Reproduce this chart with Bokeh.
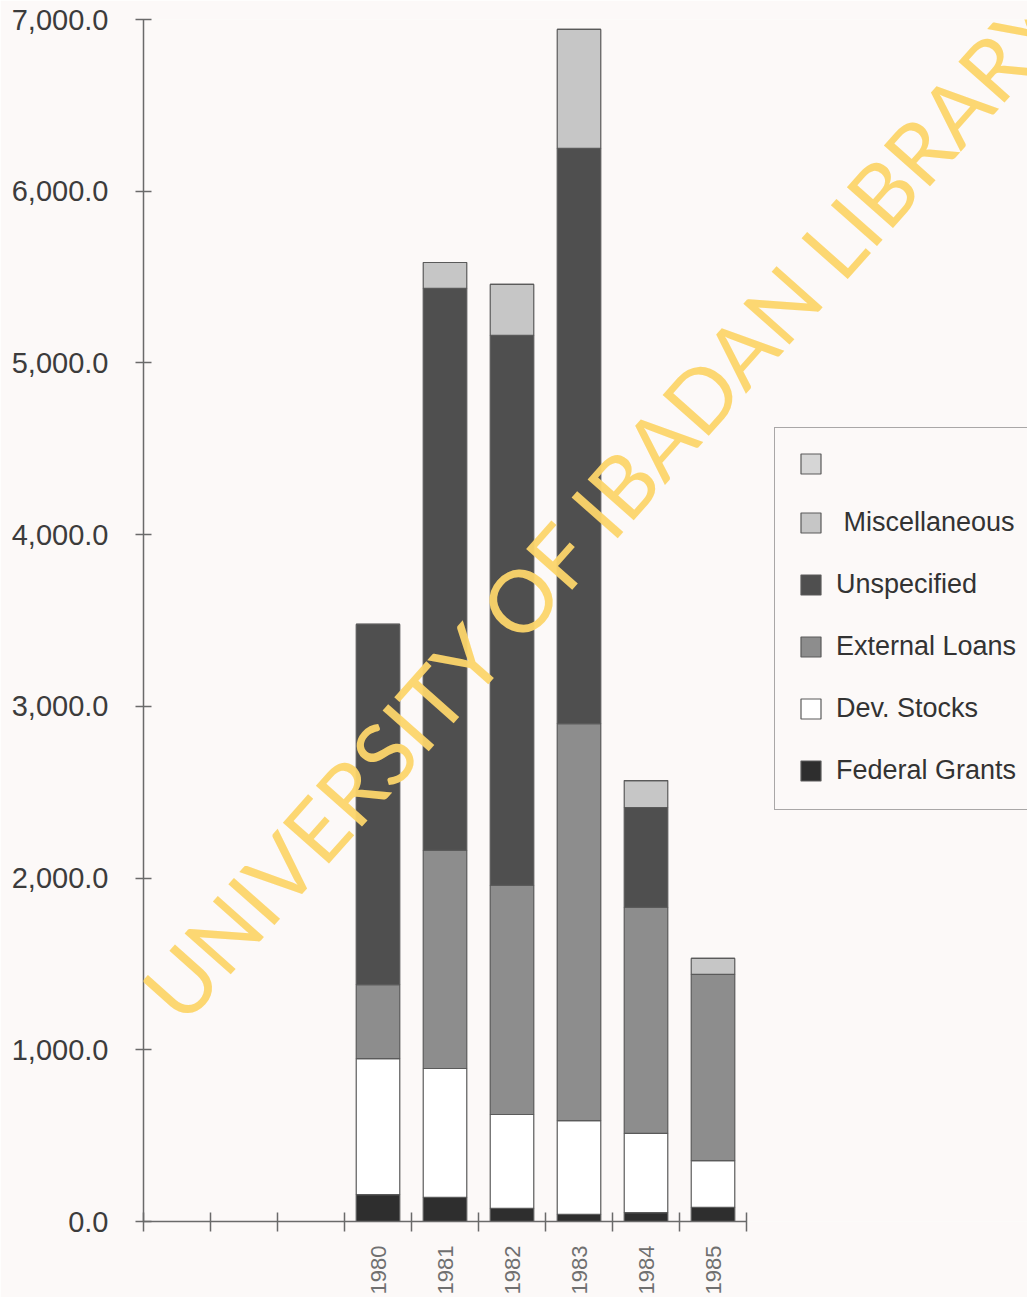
import numpy as np
from bokeh.plotting import figure
from bokeh.models import (ColumnDataSource, Range1d, FixedTicker, Legend, LegendItem,
                          Label, NumeralTickFormatter)
from bokeh.embed import file_html
from bokeh.resources import INLINE

# ---- data ----
years = ["1980", "1981", "1982", "1983", "1984", "1985"]
federal_grants = [157, 140, 76, 41, 52, 82]
dev_stocks = [792, 751, 547, 547, 461, 273]
external_loans = [431, 1270, 1334, 2312, 1316, 1084]
unspecified = [2097, 3273, 3203, 3349, 582, 0]
miscellaneous = [0, 151, 297, 693, 157, 93]
unlabelled = [0, 0, 0, 0, 0, 0]
y_ticks = [0, 1000, 2000, 3000, 4000, 5000, 6000, 7000]

series = ["Federal Grants", "Dev. Stocks", "External Loans", "Unspecified",
          "Miscellaneous", "unlabelled"]
colors = ["#2e2e2e", "#ffffff", "#8d8d8d", "#4f4f4f", "#c6c6c6", "#d6d6d6"]
legend_labels = ["Federal Grants", "Dev. Stocks", "External Loans", "Unspecified",
                 " Miscellaneous", " "]

leading_slots = 3
n_slots = leading_slots + len(years)
centers = [leading_slots + i + 0.5 for i in range(len(years))]

src = ColumnDataSource(dict(
    x=centers,
    **{"Federal Grants": federal_grants, "Dev. Stocks": dev_stocks,
       "External Loans": external_loans, "Unspecified": unspecified,
       "Miscellaneous": miscellaneous, "unlabelled": unlabelled}))

BG = "#fcf9f8"
W, H = 1027, 1297
LEFT, TOP, FRAME_H, SLOT = 143, 19, 1202, 67.0
p = figure(width=W, height=H, output_backend="svg", toolbar_location=None,
           x_range=Range1d(0, (W - LEFT) / SLOT), y_range=Range1d(0, 7000),
           min_border_left=LEFT, min_border_right=0, min_border_top=TOP,
           min_border_bottom=H - TOP - FRAME_H)
p.background_fill_color = BG
p.border_fill_color = BG
p.outline_line_color = None
p.xgrid.visible = False
p.ygrid.visible = False

rs = p.vbar_stack(series, x="x", width=0.65, source=src, fill_color=colors,
                  line_color="#5a5a5a", line_width=1.2)

# axes
ya = p.yaxis[0]
ya.ticker = FixedTicker(ticks=y_ticks, minor_ticks=[])
ya.formatter = NumeralTickFormatter(format="0,0.0")
ya.bounds = (0, 7000)
ya.axis_line_color = "#6a6a6a"
ya.axis_line_width = 1.5
ya.major_tick_line_color = "#6a6a6a"
ya.major_tick_line_width = 1.5
ya.major_tick_in = 8
ya.major_tick_out = 8
ya.major_label_standoff = 27
ya.major_label_text_font = "Liberation Sans"
ya.major_label_text_font_size = "29px"
ya.major_label_text_color = "#3c3c3c"

xa = p.xaxis[0]
xa.ticker = FixedTicker(ticks=centers, minor_ticks=list(range(n_slots + 1)))
xa.major_label_overrides = {c: y for c, y in zip(centers, years)}
xa.bounds = (0, n_slots)
xa.axis_line_color = "#6a6a6a"
xa.axis_line_width = 1.5
xa.major_tick_line_color = None
xa.major_tick_in = 0
xa.major_tick_out = 10
xa.minor_tick_line_color = "#6a6a6a"
xa.minor_tick_line_width = 1.5
xa.minor_tick_in = 9
xa.minor_tick_out = 10
xa.major_label_orientation = np.pi / 2
xa.major_label_standoff = 14
xa.major_label_text_font = "Liberation Sans"
xa.major_label_text_font_size = "22px"
xa.major_label_text_color = "#707070"

# legend (top to bottom: unlabelled, Miscellaneous, ..., Federal Grants)
items = [LegendItem(label=lab, renderers=[r])
         for lab, r in reversed(list(zip(legend_labels, rs)))]
leg = Legend(items=items, location=(631, 411), orientation="vertical",
             glyph_width=25, glyph_height=25, label_standoff=13,
             spacing=31, padding=23, margin=0,
             label_text_font="Liberation Sans", label_text_font_size="27px",
             label_text_color="#333333",
             border_line_color="#555555", border_line_width=1.5,
             background_fill_color=BG, background_fill_alpha=1.0)
p.add_layout(leg, "center")

# watermark
wm = Label(x=0.8, y=1060, text="UNIVERSITY OF IBADAN LIBRARY", angle=0.845,
           text_font="Lato", text_font_size="86px", text_color="#fcd56a",
           text_alpha=0.95)
p.add_layout(wm)

open("out.html", "w").write(file_html(p, INLINE))
